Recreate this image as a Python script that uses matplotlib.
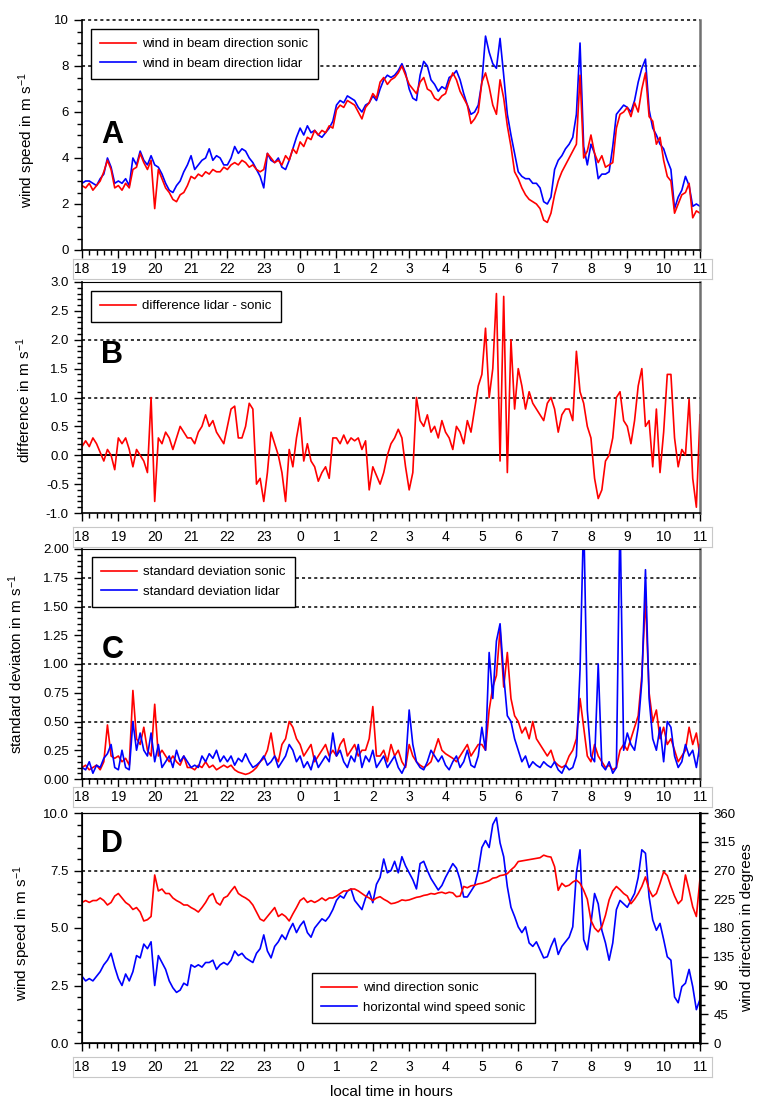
import numpy as np
import matplotlib
matplotlib.use("Agg")
import matplotlib.pyplot as plt
from matplotlib.ticker import MultipleLocator, FormatStrFormatter

plt.rcParams['font.family'] = ['Liberation Sans', 'DejaVu Sans']
plt.rcParams['mathtext.default'] = 'regular'

# time axis in hours (18 = 18:00, 35 = 11:00 next day), 0.1 h steps
hours = np.round(18 + 0.1 * np.arange(171), 1)
hour_ticks = list(range(18, 36))
hour_labels = ['18', '19', '20', '21', '22', '23', '0', '1', '2', '3', '4',
               '5', '6', '7', '8', '9', '10', '11']

# A: wind in beam direction
beam_sonic = [
    2.8, 2.7, 2.9, 2.6, 2.8, 3.0, 3.4, 3.9, 3.5, 2.7,
    2.8, 2.6, 2.9, 2.7, 3.5, 3.6, 4.2, 3.8, 3.5, 3.9,
    1.8, 3.5, 3.1, 2.7, 2.5, 2.2, 2.1, 2.4, 2.5, 2.8,
    3.2, 3.1, 3.3, 3.2, 3.4, 3.3, 3.5, 3.4, 3.4, 3.6,
    3.5, 3.7, 3.8, 3.7, 3.9, 3.8, 3.6, 3.7, 3.5, 3.4,
    3.5, 4.2, 4.0, 3.8, 3.9, 3.7, 4.1, 3.9, 4.4, 4.2,
    4.7, 4.5, 4.9, 4.8, 5.2, 5.0, 5.2, 5.1, 5.4, 5.3,
    6.1, 6.3, 6.2, 6.5, 6.4, 6.3, 6.0, 5.7, 6.2, 6.4,
    6.8, 6.6, 7.3, 7.5, 7.2, 7.4, 7.5, 7.7, 8.0, 7.6,
    7.2, 7.0, 6.8, 7.3, 7.5, 7.0, 6.9, 6.6, 6.5, 6.7,
    6.8, 7.3, 7.7, 7.4, 6.9, 6.6, 6.3, 5.5, 5.7, 6.0,
    7.3, 7.7, 7.1, 6.3, 5.9, 7.4, 6.6, 5.4, 4.5, 3.4,
    3.1, 2.7, 2.4, 2.2, 2.1, 2.0, 1.8, 1.3, 1.2, 1.6,
    2.4, 3.0, 3.4, 3.7, 4.0, 4.3, 4.6, 7.6, 4.0, 4.3,
    5.0, 4.2, 3.8, 4.1, 3.6, 3.7, 3.8, 5.3, 5.9, 6.0,
    6.2, 5.8, 6.4, 6.0, 7.0, 7.7, 5.8, 5.6, 4.6, 4.9,
    3.9, 3.2, 3.0, 1.6, 2.0, 2.4, 2.5, 2.9, 1.4, 1.7,
    1.6]
beam_lidar = [
    2.9, 3.0, 3.0, 2.9, 2.8, 3.1, 3.3, 4.0, 3.6, 2.9,
    3.0, 2.9, 3.1, 2.8, 4.0, 3.7, 4.3, 3.9, 3.7, 4.1,
    3.7, 3.6, 3.3, 2.9, 2.6, 2.5, 2.8, 3.0, 3.4, 3.7,
    4.1, 3.5, 3.7, 3.9, 4.0, 4.4, 3.9, 4.1, 4.0, 3.7,
    3.7, 4.0, 4.5, 4.2, 4.4, 4.3, 4.0, 3.8, 3.5, 3.2,
    2.7, 4.2, 3.9, 3.8, 4.0, 3.6, 3.5, 3.9, 4.4, 4.9,
    5.3, 5.0, 5.4, 5.1, 5.2, 5.0, 4.9, 5.1, 5.3, 5.6,
    6.3, 6.5, 6.4, 6.7, 6.6, 6.5, 6.2, 6.0, 6.3, 6.4,
    6.7, 6.5, 7.0, 7.4, 7.6, 7.5, 7.6, 7.8, 8.1, 7.7,
    7.0, 6.6, 6.5, 7.6, 8.2, 8.0, 7.4, 7.2, 6.9, 7.1,
    7.0, 7.5, 7.6, 7.8, 7.4, 6.8, 6.3, 5.9, 6.0, 6.3,
    7.3, 9.3, 8.6, 8.1, 7.9, 9.2, 7.6, 5.9, 5.0, 4.2,
    3.4, 3.2, 3.1, 3.1, 2.9, 2.9, 2.7, 2.1, 2.0, 2.3,
    3.5, 3.9, 4.1, 4.4, 4.6, 4.9, 5.9, 9.0, 4.5, 3.7,
    4.6, 4.2, 3.1, 3.3, 3.3, 3.4, 4.5, 5.9, 6.1, 6.3,
    6.2, 6.0, 6.5, 7.3, 7.9, 8.3, 6.1, 5.3, 5.0, 4.6,
    4.4, 3.9, 3.5, 1.8, 2.3, 2.6, 3.2, 2.8, 1.9, 2.0,
    1.9]

# B: difference lidar - sonic
diff_lidar_sonic = [
    0.15, 0.25, 0.15, 0.3, 0.2, 0.05, -0.1, 0.1, 0.0, -0.25,
    0.3, 0.2, 0.3, 0.1, -0.2, 0.1, 0.0, -0.1, -0.3, 1.0,
    -0.8, 0.3, 0.2, 0.4, 0.3, 0.1, 0.3, 0.5, 0.4, 0.3,
    0.3, 0.2, 0.4, 0.5, 0.7, 0.5, 0.6, 0.4, 0.3, 0.2,
    0.5, 0.8, 0.85, 0.3, 0.3, 0.5, 0.9, 0.8, -0.5, -0.4,
    -0.8, -0.3, 0.4, 0.2, 0.0, -0.3, -0.8, 0.1, -0.2, 0.3,
    0.65, -0.1, 0.2, -0.1, -0.2, -0.45, -0.3, -0.2, -0.4, 0.3,
    0.3, 0.2, 0.35, 0.2, 0.3, 0.25, 0.3, 0.1, 0.25, -0.6,
    -0.2, -0.35, -0.5, -0.3, 0.0, 0.2, 0.3, 0.45, 0.3, -0.2,
    -0.6, -0.3, 1.0, 0.6, 0.5, 0.7, 0.4, 0.5, 0.3, 0.6,
    0.4, 0.3, 0.1, 0.5, 0.4, 0.2, 0.6, 0.4, 0.8, 1.2,
    1.4, 2.2, 1.0, 1.5, 2.8, -0.1, 2.75, -0.3, 2.0, 0.8,
    1.5, 1.2, 0.8, 1.1, 0.9, 0.8, 0.7, 0.6, 0.9, 1.0,
    0.8, 0.4, 0.7, 0.8, 0.8, 0.6, 1.8, 1.1, 0.9, 0.5,
    0.3, -0.4, -0.75, -0.6, -0.1, 0.0, 0.3, 1.0, 1.1, 0.6,
    0.5, 0.2, 0.6, 1.2, 1.5, 0.5, 0.6, -0.2, 0.8, -0.3,
    0.4, 1.4, 1.4, 0.3, -0.2, 0.1, 0.0, 0.97, -0.4, -0.9,
    0.7]

# C: standard deviation
std_sonic = [
    0.1, 0.12, 0.08, 0.1, 0.12, 0.08, 0.15, 0.47, 0.2, 0.18,
    0.2, 0.15, 0.18, 0.12, 0.77, 0.35, 0.3, 0.45, 0.25, 0.2,
    0.65, 0.2, 0.25, 0.2, 0.15, 0.2, 0.15, 0.12, 0.2, 0.1,
    0.1, 0.08, 0.12, 0.1, 0.15, 0.1, 0.12, 0.08, 0.1, 0.12,
    0.1, 0.12, 0.08, 0.06, 0.05, 0.04, 0.05, 0.07, 0.1, 0.15,
    0.18, 0.25, 0.4, 0.2, 0.15, 0.3, 0.35, 0.5, 0.45, 0.35,
    0.3, 0.2, 0.25, 0.3, 0.15, 0.2, 0.25, 0.3, 0.2, 0.25,
    0.2, 0.3, 0.35, 0.2, 0.25, 0.3, 0.2, 0.25, 0.25, 0.35,
    0.63, 0.2, 0.2, 0.25, 0.15, 0.3, 0.2, 0.25, 0.15, 0.1,
    0.3, 0.2, 0.15, 0.12, 0.1, 0.12, 0.15, 0.25, 0.35, 0.25,
    0.22, 0.2, 0.18, 0.15, 0.2, 0.25, 0.3, 0.2, 0.25, 0.3,
    0.3, 0.25, 0.6, 0.8, 0.9, 1.3, 0.8, 1.1, 0.7, 0.55,
    0.5, 0.4, 0.45, 0.35, 0.5, 0.35, 0.3, 0.25, 0.2, 0.25,
    0.15, 0.12, 0.1, 0.12, 0.2, 0.25, 0.35, 0.7, 0.45, 0.2,
    0.15, 0.3, 0.2, 0.15, 0.1, 0.12, 0.08, 0.1, 0.25, 0.3,
    0.25, 0.35, 0.45, 0.55, 0.9, 1.58, 0.75, 0.5, 0.6, 0.35,
    0.45, 0.3, 0.35, 0.25, 0.15, 0.2, 0.25, 0.45, 0.3, 0.4,
    0.2]
std_lidar = [
    0.1, 0.08, 0.15, 0.05, 0.12, 0.1, 0.18, 0.22, 0.3, 0.1,
    0.08, 0.25, 0.1, 0.08, 0.5, 0.25, 0.4, 0.25, 0.2, 0.4,
    0.15, 0.3, 0.1, 0.15, 0.2, 0.1, 0.25, 0.15, 0.2, 0.15,
    0.1, 0.12, 0.1, 0.2, 0.15, 0.22, 0.18, 0.25, 0.15, 0.2,
    0.15, 0.2, 0.12, 0.18, 0.15, 0.22, 0.15, 0.1, 0.12, 0.15,
    0.2, 0.12, 0.15, 0.2, 0.1, 0.15, 0.2, 0.3, 0.25, 0.15,
    0.2, 0.1, 0.15, 0.08, 0.2, 0.1, 0.15, 0.2, 0.15, 0.4,
    0.2, 0.25, 0.15, 0.1, 0.2, 0.15, 0.3, 0.1, 0.2, 0.15,
    0.25, 0.1, 0.15, 0.2, 0.1, 0.15, 0.2, 0.1, 0.05, 0.12,
    0.6, 0.3, 0.15, 0.1, 0.08, 0.15, 0.25, 0.2, 0.15, 0.2,
    0.12, 0.08, 0.15, 0.2, 0.1, 0.15, 0.25, 0.12, 0.1, 0.2,
    0.45, 0.25, 1.1, 0.7, 1.2, 1.35, 0.9, 0.55, 0.5, 0.35,
    0.25, 0.15, 0.2, 0.1, 0.15, 0.12, 0.1, 0.15, 0.12, 0.1,
    0.15, 0.08, 0.05, 0.12, 0.08, 0.1, 0.2, 0.95, 2.3, 0.6,
    0.2, 0.15, 1.0, 0.12, 0.08, 0.15, 0.05, 0.1, 2.3, 0.25,
    0.4, 0.3, 0.25, 0.45, 0.85, 1.82, 0.7, 0.35, 0.25, 0.45,
    0.15, 0.5, 0.45, 0.2, 0.1, 0.15, 0.3, 0.2, 0.25, 0.1,
    0.3]

# D: wind direction (degrees) and horizontal wind speed of the sonic
dir_sonic = [
    220, 223, 220, 223, 223, 227, 223, 216, 220, 230,
    234, 227, 220, 216, 209, 212, 205, 191, 193, 198,
    263, 238, 241, 234, 234, 227, 223, 220, 216, 216,
    212, 209, 205, 212, 220, 230, 234, 220, 216, 227,
    230, 238, 245, 234, 230, 227, 223, 216, 205, 194,
    191, 198, 205, 212, 198, 202, 198, 191, 202, 212,
    223, 227, 220, 223, 220, 223, 227, 223, 227, 227,
    230, 234, 238, 238, 241, 241, 238, 234, 230, 227,
    223, 227, 229, 225, 222, 218, 219, 221, 224, 223,
    224, 226, 228, 229, 231, 232, 234, 233, 235, 236,
    234, 236, 235, 229, 230, 245, 243, 246, 247, 249,
    250, 252, 254, 258, 259, 262, 263, 265, 271, 276,
    284, 285, 286, 287, 288, 289, 290, 294, 292, 291,
    276, 239, 250, 245, 247, 252, 255, 250, 239, 225,
    192, 180, 174, 182, 200, 224, 238, 245, 240, 234,
    230, 218, 225, 234, 245, 260, 240, 229, 234, 250,
    268, 262, 245, 230, 218, 224, 263, 239, 213, 198,
    257]
hspeed_sonic = [
    2.9, 2.7, 2.8, 2.7, 2.9, 3.1, 3.4, 3.6, 3.9, 3.3,
    2.8, 2.5, 3.0, 2.7, 3.1, 3.8, 3.7, 4.3, 4.1, 4.4,
    2.5, 3.8, 3.5, 3.2, 2.7, 2.4, 2.2, 2.3, 2.6, 2.5,
    3.4, 3.3, 3.4, 3.3, 3.5, 3.5, 3.6, 3.2, 3.4, 3.5,
    3.4, 3.6, 4.0, 3.8, 3.9, 3.7, 3.6, 3.5, 3.9, 4.1,
    4.7, 4.0, 3.7, 4.2, 4.4, 4.7, 4.5, 4.9, 5.2, 4.8,
    5.1, 5.3, 4.8, 4.6, 5.0, 5.2, 5.4, 5.3, 5.5, 5.8,
    6.2, 6.4, 6.3, 6.6, 6.7, 6.2, 6.0, 5.8, 6.3, 6.6,
    6.1, 6.9, 7.2, 8.0, 7.4, 7.5, 7.9, 7.4, 8.1, 7.7,
    7.4, 7.1, 6.7, 7.8, 7.9, 7.5, 7.15, 6.9, 6.65, 6.85,
    7.2, 7.5, 7.8, 7.6, 7.1, 6.35, 6.35, 6.6, 6.85, 7.5,
    8.5, 8.8, 8.5, 9.5, 9.8, 8.7, 8.1, 6.8, 5.9, 5.5,
    5.05, 4.8, 5.05, 4.35, 4.2, 4.4, 4.05, 3.7, 3.75, 4.2,
    4.55, 3.85, 4.2, 4.4, 4.6, 5.05, 7.4, 8.4, 4.5, 4.05,
    5.2, 6.5, 6.05, 4.9, 4.35, 3.6, 4.35, 5.8, 6.2, 6.05,
    5.9, 6.2, 6.5, 7.2, 8.4, 8.25, 6.35, 5.35, 4.9, 5.2,
    4.5, 3.75, 3.6, 2.0, 1.75, 2.45, 2.6, 3.2, 2.45, 1.45,
    1.9]

RED = '#ff0000'
BLUE = '#0000ff'
W, H = 762, 1100
unit = 'm s$^{-1}$'
LW = 1.2

fig = plt.figure(figsize=(W / 100, H / 100), dpi=100)


def px_axes(left, top, right, bottom):
    return fig.add_axes([left / W, 1 - bottom / H, (right - left) / W, (bottom - top) / H])


def style_panel(ax, ymin, ymax, ymaj, ymin_step, fmt):
    ax.set_xlim(18, 35)
    ax.set_ylim(ymin, ymax)
    ax.xaxis.set_major_locator(MultipleLocator(1))
    ax.xaxis.set_minor_locator(MultipleLocator(0.2))
    ax.yaxis.set_major_locator(MultipleLocator(ymaj))
    ax.yaxis.set_minor_locator(MultipleLocator(ymin_step))
    ax.yaxis.set_major_formatter(FormatStrFormatter(fmt))
    ax.tick_params(which='major', direction='out', length=6, width=1, labelsize=9.5,
                   labelbottom=False, right=False, top=False)
    ax.tick_params(which='minor', direction='out', length=3.5, width=1,
                   right=False, top=False)
    for s in ('left', 'bottom'):
        ax.spines[s].set_linewidth(1.2)
    ax.spines['right'].set_color('#707070')
    ax.spines['right'].set_linewidth(1.8)


def strip(top, bottom):
    s = px_axes(73, top, 712, bottom)
    x0 = 18 - 9 / 36.35
    x1 = 35 + 12 / 36.35
    s.set_xlim(x0, x1)
    s.set_ylim(0, 1)
    s.set_xticks([])
    s.set_yticks([])
    for sp in s.spines.values():
        sp.set_color('#c8c8c8')
    for h, lab in zip(hour_ticks, hour_labels):
        s.text(h, 0.5, lab, ha='center', va='center', fontsize=10)


def dotted(ax, y):
    ax.axhline(y, color='black', linestyle=(0, (2, 2)), linewidth=1.1, zorder=1, clip_on=False)


def legend(ax, handles, x, y):
    leg = ax.legend(handles=handles, loc='upper left',
                    bbox_to_anchor=(x / W, 1 - y / H), bbox_transform=fig.transFigure,
                    borderaxespad=0, fancybox=False, framealpha=1, edgecolor='black',
                    fontsize=9.5, handlelength=2.7, handletextpad=0.5,
                    labelspacing=0.55, borderpad=0.7)
    leg.get_frame().set_linewidth(1.0)


# ---- panel A
axA = px_axes(82, 20, 700, 250)
style_panel(axA, 0, 10, 2, 0.5, '%d')
axA.spines['top'].set_visible(False)
dotted(axA, 8)
dotted(axA, 10)
lA2, = axA.plot(hours, beam_lidar, color=BLUE, lw=LW, label='wind in beam direction lidar')
lA1, = axA.plot(hours, beam_sonic, color=RED, lw=LW, label='wind in beam direction sonic')
axA.set_ylabel('wind speed in ' + unit, fontsize=11)
axA.yaxis.set_label_coords(-0.071, 0.48)
axA.text(0.049, 0.50, 'A', transform=axA.transAxes, fontsize=22, fontweight='bold',
         ha='center', va='center')
legend(axA, [lA1, lA2], 91, 29)
strip(259, 279)

# ---- panel B
axB = px_axes(82, 282, 700, 513)
style_panel(axB, -1, 3, 0.5, 0.1, '%.1f')
dotted(axB, 1)
dotted(axB, 2)
axB.axhline(0, color='black', lw=1.4, zorder=1)
lB, = axB.plot(hours, diff_lidar_sonic, color=RED, lw=LW, label='difference lidar - sonic')
axB.set_ylabel('difference in ' + unit, fontsize=11)
axB.yaxis.set_label_coords(-0.080, 0.49)
axB.text(0.049, 0.684, 'B', transform=axB.transAxes, fontsize=22, fontweight='bold',
         ha='center', va='center')
legend(axB, [lB], 91, 291)
strip(527, 547)

# ---- panel C
axC = px_axes(82, 549, 700, 779)
style_panel(axC, 0, 2, 0.25, 0.05, '%.2f')
for y in (0.0, 0.5, 1.0, 1.5, 1.75):
    dotted(axC, y)
lC1, = axC.plot(hours, std_sonic, color=RED, lw=LW, label='standard deviation sonic')
lC2, = axC.plot(hours, std_lidar, color=BLUE, lw=LW, label='standard deviation lidar')
axC.set_ylabel('standard deviaton in ' + unit, fontsize=11)
axC.yaxis.set_label_coords(-0.092, 0.5)
axC.text(0.049, 0.56, 'C', transform=axC.transAxes, fontsize=22, fontweight='bold',
         ha='center', va='center')
legend(axC, [lC1, lC2], 92, 557)
strip(787, 807)

# ---- panel D
axD = px_axes(82, 813, 700, 1043)
style_panel(axD, 0, 10, 2.5, 0.5, '%.1f')
axD.spines['right'].set_color('black')
dotted(axD, 7.5)
lD2, = axD.plot(hours, hspeed_sonic, color=BLUE, lw=LW, label='horizontal wind speed sonic')
axD.set_ylabel('wind speed in ' + unit, fontsize=11)
axD.yaxis.set_label_coords(-0.080, 0.48)
axD.text(0.049, 0.865, 'D', transform=axD.transAxes, fontsize=22, fontweight='bold',
         ha='center', va='center')

axD2 = axD.twinx()
axD2.set_ylim(0, 360)
axD2.yaxis.set_major_locator(MultipleLocator(45))
axD2.yaxis.set_minor_locator(MultipleLocator(15))
axD2.tick_params(which='major', direction='out', length=6, width=1, labelsize=9.5)
axD2.tick_params(which='minor', direction='out', length=3.5, width=1)
axD2.spines['right'].set_linewidth(1.2)
lD1, = axD2.plot(hours, dir_sonic, color=RED, lw=LW, label='wind direction sonic')
axD2.set_ylabel('wind direction in degrees', fontsize=11)
axD2.yaxis.set_label_coords(1.065, 0.5)
legend(axD2, [lD1, lD2], 312, 973)
strip(1057, 1077)

fig.text(391 / W, 1 - 1092 / H, 'local time in hours', ha='center', va='center', fontsize=11)

fig.savefig('out.png', dpi=100)
